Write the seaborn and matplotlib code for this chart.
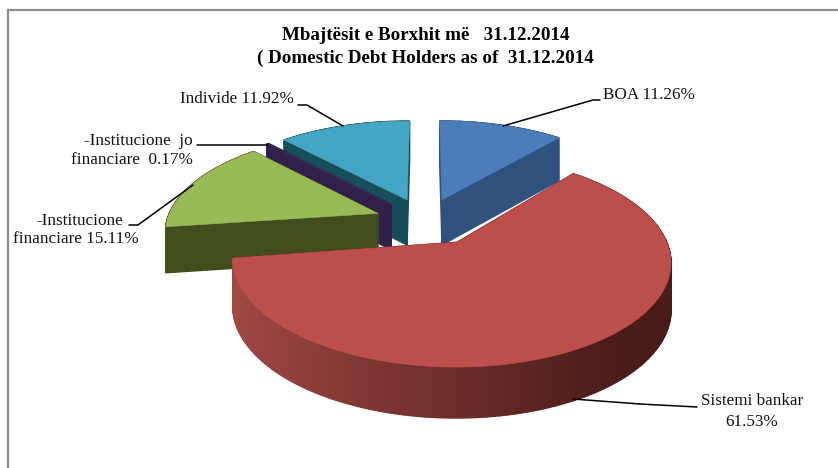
import numpy as np
import matplotlib
matplotlib.use("Agg")
import matplotlib.pyplot as plt
import seaborn as sns
from matplotlib.patches import Polygon

sns.set_theme(style="white")
plt.rcParams['font.family'] = ['Liberation Serif', 'DejaVu Serif']

categories = ["BOA", "Sistemi bankar", "Institucione financiare",
              "Institucione jo financiare", "Individe"]
shares = [11.26, 61.53, 15.11, 0.17, 11.92]
top_colors = ["#4b7db9", "#bc4f4b", "#9ab957", "#3a2a58", "#45a6c3"]
side_colors = ["#30527f", "#6f2f2c", "#414d1d", "#30204a", "#164e5a"]
title_lines = ["Mbajtësit e Borxhit më   31.12.2014",
               "( Domestic Debt Holders as of  31.12.2014"]

W, H = 838, 468
fig = plt.figure(figsize=(W / 100, H / 100), dpi=100, facecolor="white")
ax = fig.add_axes([0, 0, 1, 1])

# pie geometry comes from matplotlib's pie; it is then tilted in perspective
wedges, _ = ax.pie(shares, explode=[0.24] * 5, startangle=90, counterclock=False)

CX, CY, RX, RY, PERSP = 425.0, 221.0, 211.0, 97.5, 0.1586


def project(pts):
    pts = np.asarray(pts)
    w = 1.0 / (1.0 + PERSP * pts[:, 1])
    return np.column_stack([CX + RX * pts[:, 0] * w, CY - RY * pts[:, 1] * w]), w


def depth(w):
    return 24.2 + 21.6 * w


def arc_points(wedge, n=240):
    t = np.radians(np.linspace(wedge.theta1, wedge.theta2, n))
    c = np.asarray(wedge.center)
    return np.column_stack([c[0] + wedge.r * np.cos(t), c[1] + wedge.r * np.sin(t)])


def blend(a, b, f):
    a, b = np.array(matplotlib.colors.to_rgb(a)), np.array(matplotlib.colors.to_rgb(b))
    return tuple(a + (b - a) * f)


for wd in wedges:
    wd.set_visible(False)
ax.set_aspect("auto")
ax.set_xlim(0, W)
ax.set_ylim(H, 0)
ax.axis("off")

order = [0, 4, 3, 2, 1]
z = 3
for i in order:
    wd = wedges[i]
    arc = arc_points(wd)
    ring = np.vstack([[wd.center], arc])
    top, w = project(ring)
    if i == 1:
        # the large slice sits slightly off the shared projection
        top[1:, 0] = 452 + (top[1:, 0] - 451) * 0.99
        top[1:, 1] = 367 - (367 - top[1:, 1]) * 0.99
        top[0, 0] += 7
    bot = top + np.column_stack([np.zeros(len(w)), depth(w)])
    closed = np.arange(len(top) + 1) % len(top)
    for a, b in zip(closed[:-1], closed[1:]):
        if i == 1:
            # red rim is lit from the left: shade by screen position
            f = np.clip((top[a, 0] - 235) / (620 - 235), 0, 1)
            col = blend("#a04844", "#4a1c18", f ** 0.9)
        else:
            col = side_colors[i]
        ax.add_patch(Polygon([top[a], top[b], bot[b], bot[a]], closed=True,
                             facecolor=col, edgecolor=col, lw=1.0, zorder=z))
    ax.add_patch(Polygon(top, closed=True, facecolor=top_colors[i],
                         edgecolor=top_colors[i], lw=0.4, zorder=z + 1))
    z += 2

# frame (runs off the right and bottom of the picture)
ax.plot([7.5, 7.5], [H, 9.5], color="#8c8c8c", lw=1.6, zorder=1, solid_capstyle="projecting")
ax.plot([7.5, W], [9.5, 9.5], color="#8c8c8c", lw=1.6, zorder=1, solid_capstyle="projecting")

# title
TFS = 13.7
ax.text(425.5, 36, title_lines[0], ha="center", va="center", fontsize=TFS,
        fontweight="bold", color="black")
ax.text(425.5, 58, title_lines[1], ha="center", va="center", fontsize=TFS,
        fontweight="bold", color="black")

# labels
LFS = 12.3
lab = dict(fontsize=LFS, color="#111111", va="center", zorder=30)
ax.text(294, 99, f"Individe {shares[4]:.2f}%", ha="right", **lab)
ax.text(603, 95, f"BOA {shares[0]:.2f}%", ha="left", **lab)
ax.text(193, 141, "-Institucione  jo", ha="right", **lab)
ax.text(193, 160, f"financiare  {shares[3]:.2f}%", ha="right", **lab)
ax.text(80, 221, "-Institucione", ha="center", **lab)
ax.text(75.5, 239, f"financiare {shares[2]:.2f}%", ha="center", **lab)
ax.text(752, 401, "Sistemi bankar", ha="center", **lab)
ax.text(752, 422, f"{shares[1]:.2f}%", ha="center", **lab)

# leader lines
ll = dict(color="black", lw=1.1, zorder=31, solid_capstyle="round")
ax.plot([298, 307, 343], [105, 105, 126], **ll)
ax.plot([503, 593, 600], [126, 100, 100], **ll)
ax.plot([197, 268], [145, 145], **ll)
ax.plot([129, 138, 193], [225, 225, 185], **ll)
ax.plot([573, 640, 697], [399, 404, 407], **ll)

fig.savefig("out.png", dpi=100, facecolor="white")
